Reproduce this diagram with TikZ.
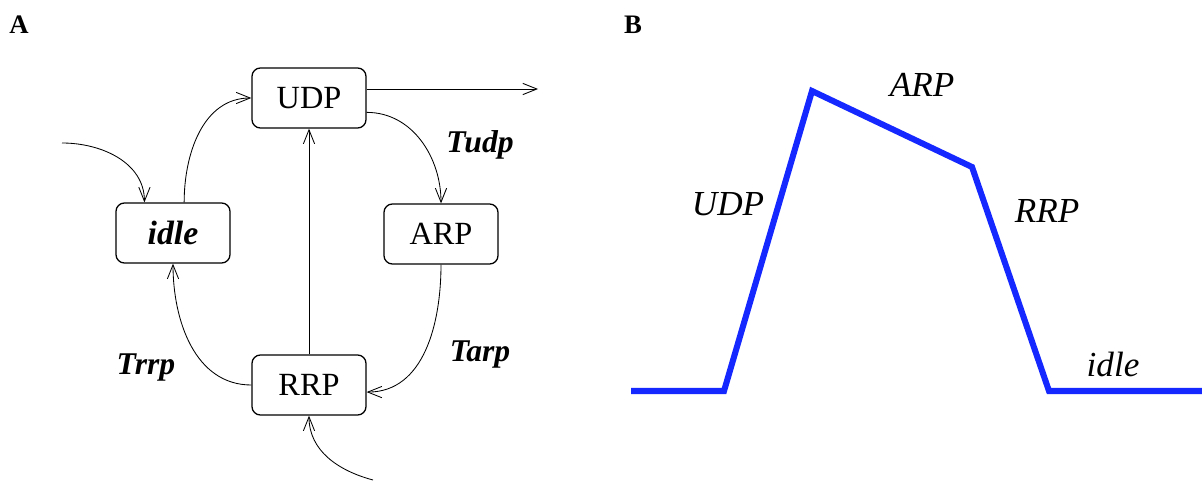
\documentclass[tikz,border=0pt]{standalone}
\usepackage{fontspec}
\setmainfont{Liberation Serif}
\usepackage{xcolor}
\usepackage{tikz}
\usetikzlibrary{positioning,calc,arrows.meta}
\definecolor{traceblue}{RGB}{20,40,255}

\begin{document}
\begin{tikzpicture}[x=0.025cm,y=0.025cm,
    state/.style={draw,rounded corners=6pt,line width=0.9pt,minimum width=2.85cm,minimum height=1.5cm,inner sep=0pt,font=\fontsize{23}{26}\selectfont},
    trans/.style={-{Straight Barb[length=10pt,width=8pt]},line width=0.6pt},
    tlabel/.style={font=\fontsize{22.5}{26}\selectfont\bfseries\itshape},
    plabel/.style={font=\fontsize{25}{28}\selectfont\itshape},
    panel/.style={font=\fontsize{19}{22}\selectfont\bfseries}]
    \useasboundingbox (0,0) rectangle (1202,481);
    % panel A: state diagram
    \node[panel] (labA) at (19,456) {A};
    \node[state] (udp) at (309,383) {UDP};
    \node[state] (idle) at (173,248) {\fontsize{24}{26}\selectfont\bfseries\itshape idle};
    \node[state] (arp) at (441,247) {ARP};
    \node[state] (rrp) at (309,96) {RRP};
    \coordinate (out) at (538,392);
    \coordinate (inidle) at (62,338);
    \coordinate (inrrp) at (373,1);
    \draw[trans] (udp.east |- out) -- (out);
    \draw[trans] (udp.-14) to[out=0,in=90] (arp.north);
    \draw[trans] (arp.south) to[out=-90,in=0] (rrp.-7);
    \draw[trans] (rrp.west) to[out=180,in=-90] (idle.south);
    \draw[trans] (idle.70) to[out=90,in=180] (udp.west);
    \draw[trans] (inidle) to[out=0,in=90] (idle.133);
    \draw[trans] (rrp.north) -- (udp.south);
    \draw[trans] (inrrp) to[out=165,in=-90] (rrp.south);
    \node[tlabel] (tudp) at (480,336) {Tudp};
    \node[tlabel] (tarp) at (480,126) {Tarp};
    \node[tlabel] (trrp) at (146,113) {Trrp};
    % panel B: phase trace
    \node[panel] (labB) at (633,456) {B};
    \draw[traceblue,line width=4.3pt] (631,90) -- (724,90) -- (812,390) -- (972,314) -- (1049,90) -- (1202,90);
    \node[plabel] (pudp) at (728,277) {UDP};
    \node[plabel] (parp) at (922,396) {ARP};
    \node[plabel] (prrp) at (1047,270) {RRP};
    \node[plabel] (pidle) at (1113,117) {idle};
\end{tikzpicture}
\end{document}
